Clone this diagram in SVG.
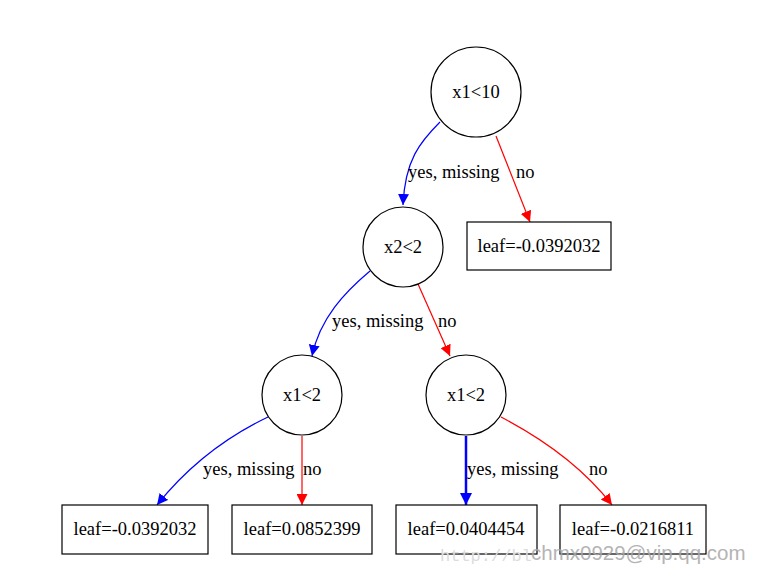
<svg xmlns="http://www.w3.org/2000/svg" width="768" height="574" viewBox="0 0 768 574">
<defs>
<marker id="ab" viewBox="0 0 10 10" refX="10" refY="5" markerWidth="11" markerHeight="11" markerUnits="userSpaceOnUse" orient="auto"><path d="M0,0 L10,5 L0,10 z" fill="#0000ff"/></marker>
<marker id="ar" viewBox="0 0 10 10" refX="10" refY="5" markerWidth="11" markerHeight="11" markerUnits="userSpaceOnUse" orient="auto"><path d="M0,0 L10,5 L0,10 z" fill="#ff0000"/></marker>
<marker id="abt" viewBox="0 0 10 10" refX="10" refY="5" markerWidth="12" markerHeight="12" markerUnits="userSpaceOnUse" orient="auto"><path d="M0,0 L10,5 L0,10 z" fill="#0000ff"/></marker>
</defs>
<style>
text{font-family:"Liberation Serif","Times New Roman",serif;font-size:18.5px;fill:#000}
.c{text-anchor:middle}
.n{fill:#fff;stroke:#000;stroke-width:1.2}
.b{fill:none;stroke:#0000ff;stroke-width:1.2}
.r{fill:none;stroke:#ff0000;stroke-width:1.2}
</style>
<rect width="768" height="574" fill="#fff"/>
<g id="edges">
<path class="b" d="M440,122 C420,142 405,160 403,205" marker-end="url(#ab)"/>
<path class="r" d="M496,136 L530,222" marker-end="url(#ar)"/>
<path class="b" d="M370,271 C345,292 320,318 312,356" marker-end="url(#ab)"/>
<path class="r" d="M418,284 L450,356" marker-end="url(#ar)"/>
<path class="b" d="M268,417 C220,440 185,470 157,505" marker-end="url(#ab)"/>
<path class="r" d="M302,436 L302,505" marker-end="url(#ar)"/>
<path fill="none" stroke="#0000ff" stroke-width="2.5" d="M466,436 L466,505" marker-end="url(#abt)"/>
<path class="r" d="M501,417 C545,440 585,470 612,505" marker-end="url(#ar)"/>
<text x="408" y="178">yes, missing</text>
<text x="516" y="178">no</text>
<text x="332" y="327">yes, missing</text>
<text x="438" y="327">no</text>
<text x="203" y="475">yes, missing</text>
<text x="303" y="475">no</text>
<text x="467" y="475">yes, missing</text>
<text x="589" y="475">no</text>
</g>
<g id="n0"><circle class="n" cx="476" cy="92" r="45"/><text class="c" x="476" y="98">x1&lt;10</text></g>
<g id="n1"><circle class="n" cx="403" cy="247" r="40"/><text class="c" x="403" y="253">x2&lt;2</text></g>
<g id="n2"><rect class="n" x="467" y="222" width="144" height="48" stroke-width="2"/><text class="c" x="539" y="252">leaf=-0.0392032</text></g>
<g id="n3"><circle class="n" cx="302" cy="395" r="40"/><text class="c" x="302" y="401">x1&lt;2</text></g>
<g id="n4"><circle class="n" cx="466" cy="395" r="40"/><text class="c" x="466" y="401">x1&lt;2</text></g>
<g id="n5"><rect class="n" x="62" y="505" width="146" height="49"/><text class="c" x="135" y="535">leaf=-0.0392032</text></g>
<g id="n6"><rect class="n" x="232" y="505" width="140" height="49"/><text class="c" x="302" y="535">leaf=0.0852399</text></g>
<g id="n7"><rect class="n" x="396" y="505" width="141" height="49"/><text class="c" x="466" y="535">leaf=0.0404454</text></g>
<g id="n8"><rect class="n" x="560" y="505" width="146" height="49"/><text class="c" x="633" y="535">leaf=-0.0216811</text></g>
<text x="440" y="561" style="font-family:'Liberation Mono',monospace;font-size:17px;fill:#dcdcdc">http://bl</text>
<text x="531" y="560" style="font-family:'Liberation Sans',sans-serif;font-size:20.5px;fill:#a8a8a8;opacity:0.85">chmx0929@vip.qq.com</text>
</svg>
